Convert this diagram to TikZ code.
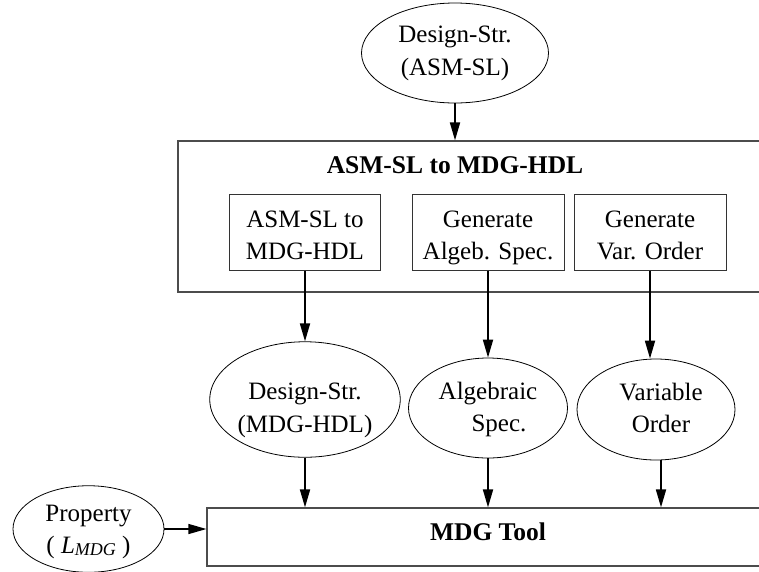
\documentclass[tikz,border=0pt]{standalone}
\usepackage{fontspec}
\setmainfont{Liberation Serif}
\usetikzlibrary{arrows.meta,shapes.geometric}

% struts that fix the height of a first line and the depth of a last line
\newcommand\upstr[1]{\rule{0pt}{#1}}
\newcommand\dnstr{\rule[-6pt]{0pt}{6pt}}

\tikzset{
  txt/.style={font=\fontsize{25}{32.5}\selectfont, align=center},
  oval/.style={ellipse, draw, line width=0.8pt, inner sep=0pt, txt},
  stage/.style={rectangle, draw=black!80, line width=1pt, inner sep=0pt, txt},
  frame/.style={rectangle, draw=black!70, line width=1.2pt, inner sep=0pt},
  heading/.style={font=\bfseries\fontsize{25.5}{30}\selectfont, anchor=base},
  flow/.style={-{Triangle[length=18pt,width=10pt]}, line width=1.8pt}
}

\begin{document}
\begin{tikzpicture}[x=1pt, y=-1pt]
\useasboundingbox (0,0) rectangle (759,571);
\clip (0,0) rectangle (759,571);

% source specification
\node[oval, minimum width=187pt, minimum height=100pt] (src) at (455,53)
  {\upstr{18.3pt}Design-Str.\\(ASM-SL)\dnstr};

% translator with its three stages
\node[frame, minimum width=602pt, minimum height=151pt] (conv) at (479,216.5) {};
\node[heading] (convname) at (455,173.3) {ASM-SL to MDG-HDL};

\node[stage, minimum width=151pt, minimum height=76pt] (b1) at (305,232)
  {\upstr{29.3pt}ASM-SL to\\MDG-HDL\dnstr};
\node[stage, minimum width=152pt, minimum height=76pt] (b2) at (488,232)
  {\upstr{29.3pt}Generate\\Algeb. Spec.\dnstr};
\node[stage, minimum width=152pt, minimum height=76pt] (b3) at (650,232)
  {\upstr{29.3pt}Generate\\Var. Order\dnstr};

% generated artefacts
\node[oval, minimum width=188pt, minimum height=115.5pt] (e1) at (305,399.5)
  {\upstr{38.7pt}Design-Str.\\(MDG-HDL)\dnstr};
\node[oval, minimum width=159pt, minimum height=100pt] (e2) at (488,408)
  {\upstr{21pt}Algebraic\\\hspace*{22pt}Spec.\dnstr};
\node[oval, minimum width=158pt, minimum height=101pt] (e3) at (656,409.5)
  {\upstr{20.3pt}\hspace*{10pt}Variable\\\hspace*{10pt}Order\dnstr};

% verification tool and property
\node[frame, minimum width=573pt, minimum height=58pt] (mdg) at (493.5,537) {};
\node[heading] (mdgname) at (488,540) {MDG Tool};

\node[oval, minimum width=151pt, minimum height=86pt] (prop) at (88.5,529)
  {\upstr{22.7pt}Property\\( \textit{L}\raisebox{-2pt}{\fontsize{18}{18}\selectfont\itshape MDG} )\dnstr};

% data flow
\draw[flow] (src.south) -- (src.south |- conv.north);
\draw[flow] (b1.south) -- (b1.south |- e1.north);
\draw[flow] (b2.south) -- (b2.south |- e2.north);
\draw[flow] (b3.south) -- (b3.south |- e3.north);
\draw[flow] (e1.south) -- (e1.south |- mdg.north);
\draw[flow] (e2.south) -- (e2.south |- mdg.north);
\draw[flow] ([xshift=5pt]e3.south) -- ([xshift=5pt]e3.south |- mdg.north);
\draw[flow, line width=1.3pt] (prop.east) -- (prop.east -| mdg.west);
\end{tikzpicture}
\end{document}
